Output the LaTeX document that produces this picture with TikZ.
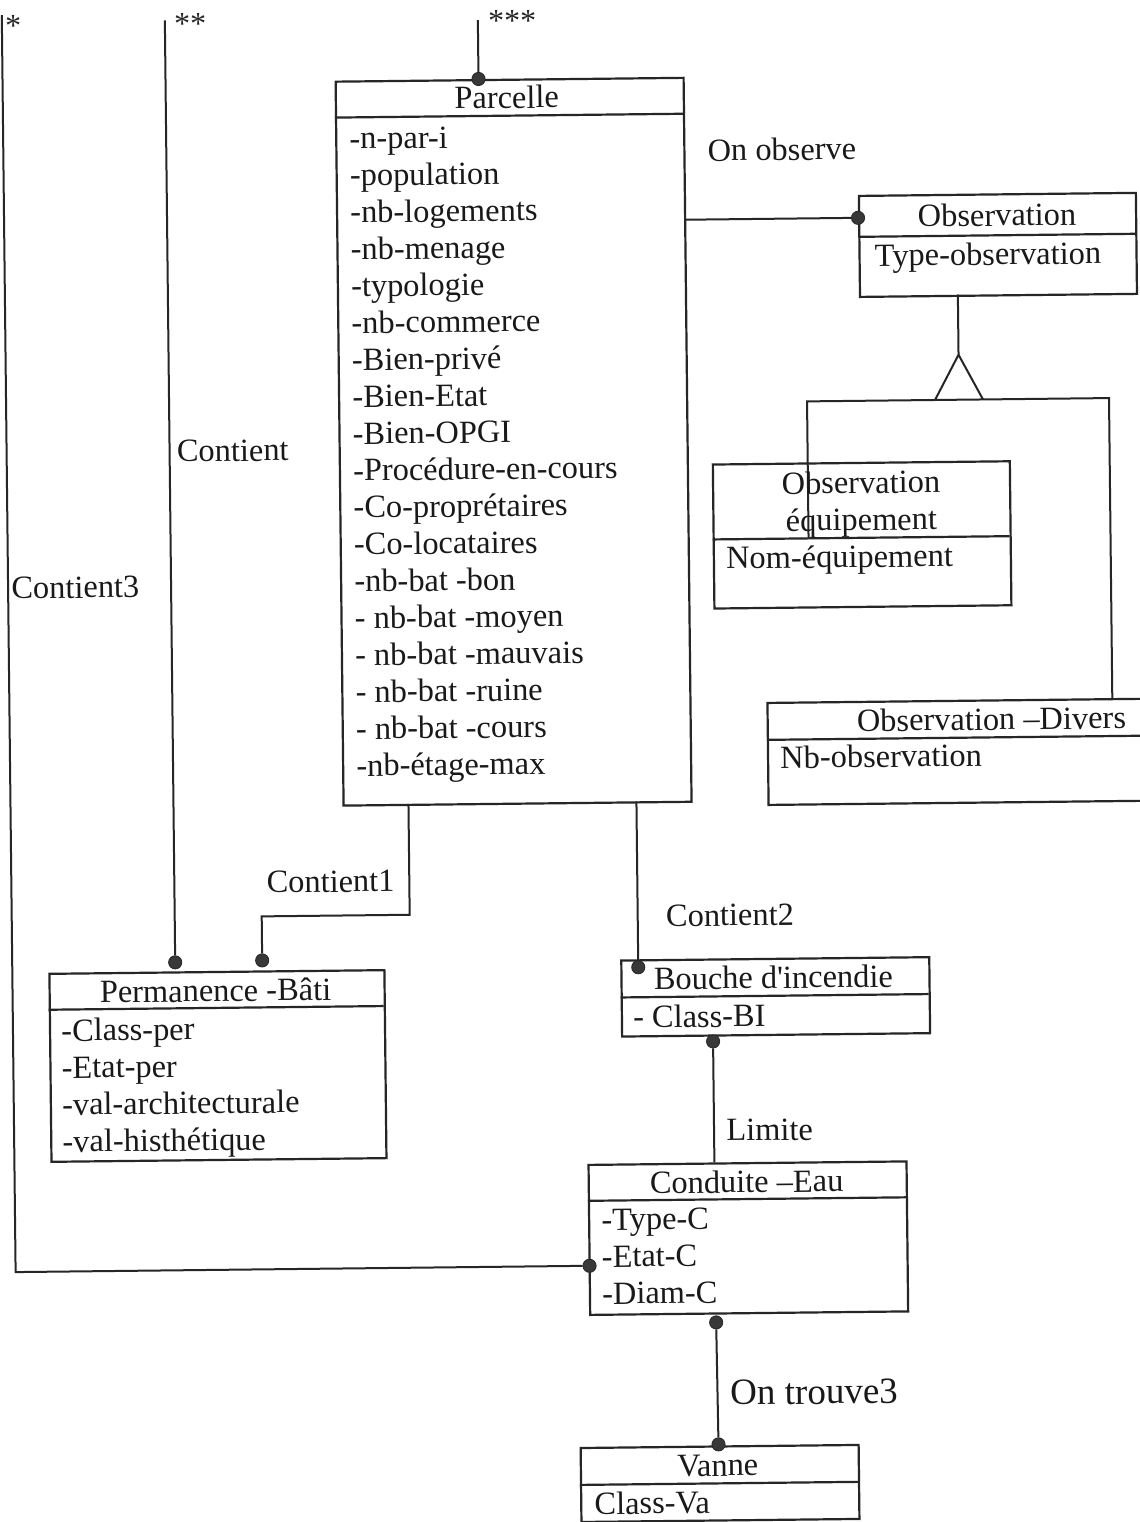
\documentclass[tikz,border=0pt]{standalone}
\usepackage{fontspec}
\setmainfont{Liberation Serif}
\begin{document}
\begin{tikzpicture}[x=0.5pt,y=-0.5pt,
  ln/.style={line width=1pt, draw=black!85},
  sepline/.style={line width=1.1pt, draw=black!85},
  box/.style={draw=black!85, line width=1.1pt, fill=white, rectangle, inner sep=0pt, anchor=north west},
  txt/.style={inner sep=0pt, text=black!90, font=\fontsize{16.2}{18.5}\selectfont, text height=1.18em, text depth=0.12em},
  attr/.style={txt, anchor=west},
  ttl/.style={txt, anchor=center},
  lbl/.style={txt, anchor=west},
  bigl/.style={lbl, font=\fontsize{18.5}{22}\selectfont},
  star/.style={inner sep=0pt, anchor=base west, text=black!85, font=\fontsize{16}{18.5}\selectfont},
  dotn/.style={circle, fill=black!78, draw=black!85, line width=0.4pt, minimum size=6.6pt, inner sep=0pt}
]
\useasboundingbox (0,0) rectangle (1140,1522);
\clip (0,0) rectangle (1140,1522);
\fill[white] (0,0) rectangle (1140,1522);

\begin{scope}[rotate around={0.63:(570,761)}, transform shape]

% ---------- class boxes ----------
\node[box, minimum width=174pt,   minimum height=362pt] (parcelle)    at (342,78)   {};
\node[box, minimum width=138.5pt, minimum height=50.5pt] (observation) at (864,198)  {};
\node[box, minimum width=148.5pt, minimum height=72pt]  (obsequip)    at (715,465)  {};
\node[box, minimum width=192pt,   minimum height=51pt]  (obsdivers)   at (767,704)  {};
\node[box, minimum width=167.5pt, minimum height=94pt]  (permanence)  at (46,967)   {};
\node[box, minimum width=154pt,   minimum height=38pt]  (bouche)      at (618,960)  {};
\node[box, minimum width=159pt,   minimum height=75pt]  (conduite)    at (583,1164) {};
\node[box, minimum width=139pt,   minimum height=37pt]  (vanne)       at (572,1447) {};

% compartment separators
\draw[sepline] (342,115)  -- (690,115);
\draw[sepline] (864,240)  -- (1141,240);
\draw[sepline] (715,541)  -- (1012,541);
\draw[sepline] (767,742)  -- (1151,742);
\draw[sepline] (46,1004)  -- (381,1004);
\draw[sepline] (618,998)  -- (926,998);
\draw[sepline] (583,1201) -- (901,1201);
\draw[sepline] (572,1485) -- (850,1485);

% ---------- associations ----------
\coordinate (c3top) at (486,19);
\node[dotn] (d3) at (486,78) {};
\draw[ln] (c3top) -- (d3);

\coordinate (c2top) at (173,16);
\node[dotn] (d2) at (173,958) {};
\draw[ln] (c2top) -- (d2);

\coordinate (c1top) at (10,9);
\coordinate (c1bend) at (10,1266);
\node[dotn] (d1) at (584,1266) {};
\draw[ln] (c1top) -- (c1bend) -- (d1);

\coordinate (pobs) at (690,221);
\node[dotn] (dobs) at (864,221) {};
\draw[ln] (pobs) -- (dobs);

\coordinate (k1a) at (408,802);
\coordinate (k1b) at (408,913);
\coordinate (k1c) at (260,913);
\node[dotn] (dk1) at (260,957) {};
\draw[ln] (k1a) -- (k1b) -- (k1c) -- (dk1);

\coordinate (k2a) at (636,802);
\node[dotn] (dk2) at (636,968) {};
\draw[ln] (k2a) -- (dk2);

\node[dotn] (dlim) at (710,1043) {};
\coordinate (limb) at (710,1164);
\draw[ln] (dlim) -- (limb);

\node[dotn] (dtra) at (710,1324) {};
\node[dotn] (dtrb) at (711,1446) {};
\draw[ln] (dtra) -- (dtrb);

% ---------- generalisation ----------
\coordinate (ga) at (963,299);
\coordinate (gapex) at (963,359);
\coordinate (gl) at (939,404);
\coordinate (gr) at (987,404);
\coordinate (bar1) at (811,404);
\coordinate (bar2) at (1113,404);
\coordinate (drop1) at (811,541);
\coordinate (drop2) at (1113,704);
\draw[ln] (ga) -- (gapex);
\draw[ln] (gl) -- (gapex) -- (gr);
\draw[ln] (drop1) -- (bar1) -- (bar2) -- (drop2);

% ---------- texts ----------
\node[star] (s1) at (13,30) {*};
\node[star] (s2) at (182,30) {**};
\node[star] (s3) at (496,31) {***};

\node[ttl] (tparcelle) at (514,97) {Parcelle};
\foreach \t [count=\i from 0] in {-n-par-i, -population, -nb-logements, -nb-menage,
  -typologie, -nb-commerce, -Bien-privé, -Bien-Etat, -Bien-OPGI, -Procédure-en-cours,
  -Co-proprétaires, -Co-locataires, -nb-bat -bon, - nb-bat -moyen, - nb-bat -mauvais,
  - nb-bat -ruine, - nb-bat -cours, -nb-étage-max}
  \node[attr] (ap\i) at (356,{136+36.9*\i}) {\t};

\node[ttl] (tobs) at (1003,220) {Observation};
\node[attr] (aobs) at (880,259) {Type-observation};

\node[ttl] (tobsequipa) at (864,486) {Observation};
\node[ttl] (tobsequipb) at (864,523) {équipement};
\node[attr] (aobsequip) at (728,560) {Nom-équipement};

\node[attr] (tobsdivers) at (857,724) {Observation –Divers};
\node[attr] (aobsdivers) at (780,760) {Nb-observation};

\node[ttl] (tperm) at (213,987) {Permanence -Bâti};
\node[attr] (aperm1) at (58,1025) {-Class-per};
\node[attr] (aperm2) at (58,1062) {-Etat-per};
\node[attr] (aperm3) at (58,1099) {-val-architecturale};
\node[attr] (aperm4) at (58,1136) {-val-histhétique};

\node[ttl] (tbouche) at (771,980) {Bouche d\textquotesingle incendie};
\node[attr] (abouche) at (630,1018) {- Class-BI};

\node[ttl] (tcond) at (742,1184) {Conduite –Eau};
\node[attr] (acond1) at (596,1220) {-Type-C};
\node[attr] (acond2) at (596,1257) {-Etat-C};
\node[attr] (acond3) at (596,1294) {-Diam-C};

\node[ttl] (tvanne) at (710,1467) {Vanne};
\node[attr] (avanne) at (586,1504) {Class-Va};

% association names
\node[lbl] (lobserve) at (714,152) {On observe};
\node[lbl] (lcont) at (180,447) {Contient};
\node[lbl] (lcont3) at (13,582) {Contient3};
\node[lbl] (lcont1) at (265,879) {Contient1};
\node[lbl] (lcont2) at (664,917) {Contient2};
\node[lbl] (llimite) at (722,1132) {Limite};
\node[bigl] (ltrouve) at (723,1396) {On trouve3};

\end{scope}
\end{tikzpicture}
\end{document}
